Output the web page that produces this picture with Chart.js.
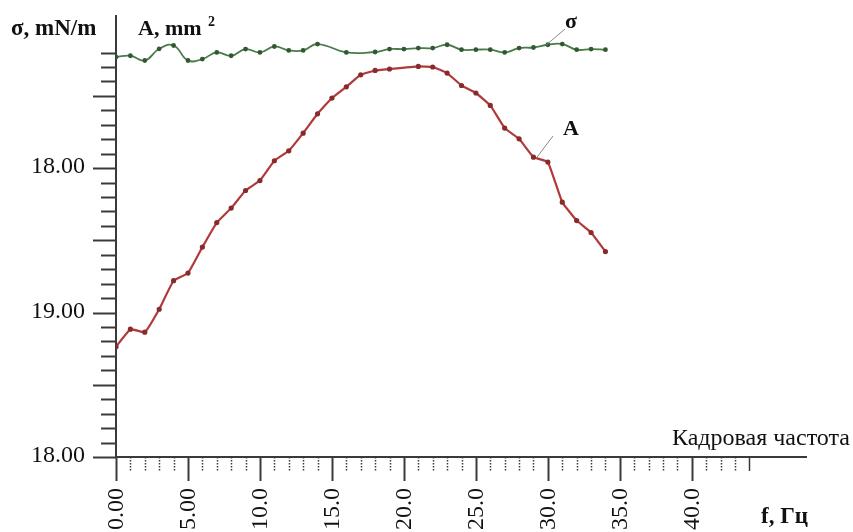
<!DOCTYPE html>
<html>
<head>
<meta charset="utf-8">
<script src="https://cdn.jsdelivr.net/npm/chart.js@4/dist/chart.umd.min.js"></script>
<style>
  html, body { margin: 0; padding: 0; background: #ffffff; }
  #wrap { width: 853px; height: 532px; }
</style>
</head>
<body>
<div id="wrap"><canvas id="c" width="853" height="532"></canvas></div>
<script>
// Frame rate, Hz, for the surface tension series
const fSigma = [0, 1, 2, 3, 4, 5, 6, 7, 8, 9, 10, 11, 12, 13, 14, 16, 18, 19, 20, 21, 22, 23, 24, 25, 26, 27, 28, 29, 30, 31, 32, 33, 34];
// Surface tension σ, in axis units
const sigma = [27.69, 27.78, 27.45, 28.26, 28.49, 27.45, 27.55, 28.01, 27.78, 28.24, 28.01, 28.42, 28.15, 28.15, 28.59, 28.01, 28.04, 28.24, 28.24, 28.31, 28.31, 28.54, 28.20, 28.20, 28.20, 28.01, 28.31, 28.35, 28.54, 28.59, 28.20, 28.24, 28.20];

// Frame rate, Hz, for the area series
const fArea = [0, 1, 2, 3, 4, 5, 6, 7, 8, 9, 10, 11, 12, 13, 14, 15, 16, 17, 18, 19, 21, 22, 23, 24, 25, 26, 27, 28, 29, 30, 31, 32, 33, 34];
// Area A, in axis units
const area = [7.64, 8.85, 8.64, 10.23, 12.21, 12.73, 14.53, 16.23, 17.23, 18.45, 19.14, 20.51, 21.20, 22.42, 23.76, 24.85, 25.63, 26.46, 26.76, 26.86, 27.04, 27.00, 26.58, 25.72, 25.20, 24.34, 22.77, 22.03, 20.76, 20.42, 17.64, 16.37, 15.54, 14.22];

// Axis tick labels
const xTickValues = [0, 5, 10, 15, 20, 25, 30, 35, 40];
const xTickLabels = ['0.00', '5.00', '10.0', '15.0', '20.0', '25.0', '30.0', '35.0', '40.0'];
const yTickValues = [0, 10, 20];
const yTickLabels = ['18.00', '19.00', '18.00'];

const X_MAX = 48, X_MINOR_LAST = 44;
const Y_MAX = 30.6, Y_MINOR_LAST = 28;

const SERIF = '"Liberation Serif", "Times New Roman", serif';

const axesPlugin = {
  id: 'axes',
  beforeDatasetsDraw(chart) {
    const ctx = chart.ctx;
    const xs = chart.scales.x, ys = chart.scales.y;
    const x0 = xs.getPixelForValue(0);
    const y0 = ys.getPixelForValue(0);
    const yTop = ys.getPixelForValue(Y_MAX);
    const xEnd = xs.getPixelForValue(X_MAX);
    ctx.save();
    ctx.strokeStyle = '#3a3a3a';
    ctx.lineWidth = 2;
    // axis lines
    ctx.beginPath();
    ctx.moveTo(x0, yTop); ctx.lineTo(x0, y0);
    ctx.moveTo(x0, y0); ctx.lineTo(xEnd, y0);
    ctx.stroke();
    // y ticks
    for (let v = 0; v <= Y_MINOR_LAST; v++) {
      const y = Math.round(ys.getPixelForValue(v)) + 0.5;
      const len = (v % 5 === 0) ? 23 : 15;
      ctx.beginPath();
      ctx.moveTo(x0 - len, y); ctx.lineTo(x0, y);
      ctx.stroke();
    }
    // x ticks
    for (let v = 1; v <= X_MINOR_LAST; v++) {
      const x = Math.round(xs.getPixelForValue(v)) + 0.5;
      if (v % 5 === 0 && v <= 40) continue;
      ctx.save();
      ctx.lineWidth = 1.5;
      if (v !== X_MINOR_LAST) ctx.setLineDash([1.5, 1.5]);
      ctx.beginPath();
      ctx.moveTo(x, y0); ctx.lineTo(x, y0 + 14);
      ctx.stroke();
      ctx.restore();
    }
    xTickValues.forEach(v => {
      const x = Math.round(xs.getPixelForValue(v)) + 0.5;
      ctx.beginPath();
      ctx.moveTo(x, y0); ctx.lineTo(x, y0 + 24);
      ctx.stroke();
    });
    // tick labels
    ctx.fillStyle = '#111';
    ctx.font = '24px ' + SERIF;
    ctx.textAlign = 'right';
    ctx.textBaseline = 'middle';
    yTickValues.forEach((v, i) => {
      ctx.fillText(yTickLabels[i], x0 - 31, ys.getPixelForValue(v) - 1);
    });
    xTickValues.forEach((v, i) => {
      ctx.save();
      ctx.translate(xs.getPixelForValue(v) + 1, y0 + 31);
      ctx.rotate(-Math.PI / 2);
      ctx.textAlign = 'right';
      ctx.textBaseline = 'middle';
      ctx.fillText(xTickLabels[i], 0, 0);
      ctx.restore();
    });
    ctx.restore();
  },
  afterDraw(chart) {
    const ctx = chart.ctx;
    const xs = chart.scales.x, ys = chart.scales.y;
    ctx.save();
    ctx.fillStyle = '#111';
    ctx.textBaseline = 'alphabetic';
    ctx.textAlign = 'left';
    // axis titles
    ctx.font = 'bold 23px ' + SERIF;
    ctx.fillText('σ, mN/m', 11, 35);
    ctx.font = 'bold 22px ' + SERIF;
    ctx.fillText('A, mm', 138, 35);
    ctx.font = 'bold 14px ' + SERIF;
    ctx.fillText('2', 208, 26);
    ctx.font = 'bold 23px ' + SERIF;
    ctx.fillText('f, Гц', 761, 523);
    ctx.font = '24px ' + SERIF;
    ctx.fillText('Кадровая частота', 672, 445);
    // series labels with leader lines
    ctx.font = 'bold 22px ' + SERIF;
    ctx.fillText('σ', 565, 28);
    ctx.fillText('A', 563, 135);
    ctx.strokeStyle = '#8a8a8a';
    ctx.lineWidth = 1;
    ctx.beginPath();
    ctx.moveTo(565, 29);
    ctx.lineTo(xs.getPixelForValue(29.9), ys.getPixelForValue(28.54));
    ctx.moveTo(553, 136);
    ctx.lineTo(xs.getPixelForValue(29.2), ys.getPixelForValue(20.7));
    ctx.stroke();
    ctx.restore();
  }
};

new Chart(document.getElementById('c'), {
  type: 'line',
  data: {
    datasets: [
      {
        label: 'σ',
        data: fSigma.map((f, i) => ({ x: f, y: sigma[i] })),
        borderColor: '#4b7a4b',
        backgroundColor: '#2f5a30',
        pointBackgroundColor: '#2f5a30',
        pointBorderColor: '#2f5a30',
        borderWidth: 1.8,
        pointRadius: 1.5,
        tension: 0.45,
        fill: false
      },
      {
        label: 'A',
        data: fArea.map((f, i) => ({ x: f, y: area[i] })),
        borderColor: '#b03a3a',
        backgroundColor: '#8a2a2a',
        pointBackgroundColor: '#8a2a2a',
        pointBorderColor: '#8a2a2a',
        borderWidth: 2.2,
        pointRadius: 1.5,
        tension: 0.1,
        fill: false
      }
    ]
  },
  options: {
    responsive: false,
    animation: false,
    events: [],
    layout: { padding: { left: 116, right: 46, top: 15, bottom: 75 } },
    plugins: { legend: { display: false }, tooltip: { enabled: false } },
    scales: {
      x: { type: 'linear', min: 0, max: X_MAX, display: false },
      y: { type: 'linear', min: 0, max: Y_MAX, display: false }
    }
  },
  plugins: [axesPlugin]
});
</script>
</body>
</html>
